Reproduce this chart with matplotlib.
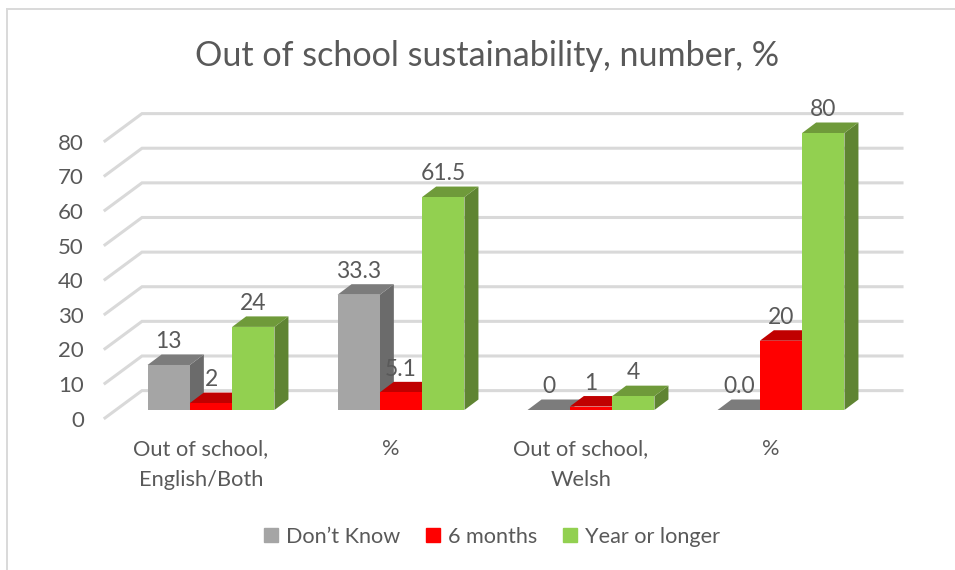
import matplotlib
matplotlib.use("Agg")
import matplotlib.pyplot as plt
from matplotlib.lines import Line2D
from matplotlib.patches import Polygon

plt.rcParams["font.family"] = ["Lato", "DejaVu Sans"]

CATEGORIES = ["Out of school,\nEnglish/Both", "%", "Out of school,\nWelsh", "%"]
DONT_KNOW = [13, 33.3, 0, 0.0]
SIX_MONTHS = [2, 5.1, 1, 20]
YEAR_OR_LONGER = [24, 61.5, 4, 80]
DONT_KNOW_LABELS = ["13", "33.3", "0", "0.0"]
SIX_MONTHS_LABELS = ["2", "5.1", "1", "20"]
YEAR_LABELS = ["24", "61.5", "4", "80"]
Y_TICKS = [0, 10, 20, 30, 40, 50, 60, 70, 80]

TEXT_COLOR = "#595959"
GRID_COLOR = "#d9d9d9"

# pixel layout of the reference, used to set up the axes limits
WIDTH, HEIGHT = 955, 570
X_PER_CAT = 190.0
Y_PER_UNIT = 3.4625
X_ORIGIN = 211.0
Y_ORIGIN = 410.0
BAR_WIDTH = 42.3 / X_PER_CAT
DEPTH_X = 14.0 / X_PER_CAT
DEPTH_Y = 10.5 / Y_PER_UNIT


def draw_bar(ax, x, value, front, side, top):
    left = x - BAR_WIDTH / 2
    right = x + BAR_WIDTH / 2
    side_pts = [(right, 0), (right + DEPTH_X, DEPTH_Y), (right + DEPTH_X, value + DEPTH_Y), (right, value)]
    top_pts = [(left, value), (left + DEPTH_X, value + DEPTH_Y), (right + DEPTH_X, value + DEPTH_Y), (right, value)]
    ax.add_patch(Polygon(side_pts, facecolor=side, edgecolor="none", zorder=3))
    ax.add_patch(Polygon(top_pts, facecolor=top, edgecolor="none", zorder=3))
    ax.bar(x, value, width=BAR_WIDTH, color=front, zorder=3)


def draw_walls(ax):
    back_left = (142 - X_ORIGIN) / X_PER_CAT
    back_right = (902 - X_ORIGIN) / X_PER_CAT
    front_left = (105 - X_ORIGIN) / X_PER_CAT
    back_lift = 5.6
    front_drop = -2.3
    for tick in Y_TICKS:
        ax.plot([front_left, back_left, back_right],
                [tick + front_drop, tick + back_lift, tick + back_lift],
                color=GRID_COLOR, linewidth=2.2, zorder=1, solid_joinstyle="miter")
        ax.text(front_left - 21 / X_PER_CAT, tick - 3.1, str(tick), ha="right", va="center",
                fontsize=16, color=TEXT_COLOR)


def main():
    fig = plt.figure(figsize=(WIDTH / 100, HEIGHT / 100), dpi=100)
    ax = fig.add_axes([0, 0, 1, 1])
    ax.set_xlim(-X_ORIGIN / X_PER_CAT, (WIDTH - X_ORIGIN) / X_PER_CAT)
    ax.set_ylim((Y_ORIGIN - HEIGHT) / Y_PER_UNIT, Y_ORIGIN / Y_PER_UNIT)
    ax.axis("off")

    draw_walls(ax)

    series = [
        (DONT_KNOW, DONT_KNOW_LABELS, "#a5a5a5", "#6b6b6b", "#7c7c7c", -1),
        (SIX_MONTHS, SIX_MONTHS_LABELS, "#ff0000", "#a50000", "#c00000", 0),
        (YEAR_OR_LONGER, YEAR_LABELS, "#92d050", "#5f8432", "#6f9a3a", 1),
    ]
    for i in range(len(CATEGORIES)):
        for values, labels, front, side, top, slot in series:
            x = i + slot * BAR_WIDTH
            draw_bar(ax, x, values[i], front, side, top)
            ax.annotate(labels[i], (x, values[i]), xytext=(0, 16.8), textcoords="offset points",
                        ha="center", va="center", fontsize=16.5, color=TEXT_COLOR, zorder=5)
        ax.text(i - 10 / X_PER_CAT, -8.4, CATEGORIES[i], ha="center", va="top", fontsize=15.7,
                color=TEXT_COLOR, linespacing=1.66)

    fig.text(487 / WIDTH, 1 - 56 / HEIGHT, "Out of school sustainability, number, %",
             ha="center", va="center", fontsize=24.6, color=TEXT_COLOR)

    handles = [
        plt.Rectangle((0, 0), 1, 1, color="#a5a5a5"),
        plt.Rectangle((0, 0), 1, 1, color="#ff0000"),
        plt.Rectangle((0, 0), 1, 1, color="#92d050"),
    ]
    fig.legend(handles, ["Don’t Know", "6 months", "Year or longer"], ncol=3, frameon=False,
               loc="center", bbox_to_anchor=(492 / WIDTH, 1 - 537 / HEIGHT), fontsize=15.6,
               labelcolor=TEXT_COLOR, handlelength=0.62, handleheight=0.62, handletextpad=0.38,
               columnspacing=1.2)

    # chart border is cropped on the right and bottom
    fig.add_artist(Line2D([7 / WIDTH, 7 / WIDTH], [0, 1 - 9 / HEIGHT], color=GRID_COLOR, linewidth=1.4))
    fig.add_artist(Line2D([7 / WIDTH, 1], [1 - 9 / HEIGHT, 1 - 9 / HEIGHT], color=GRID_COLOR, linewidth=1.4))

    fig.savefig("out.png", dpi=100)


if __name__ == "__main__":
    main()
